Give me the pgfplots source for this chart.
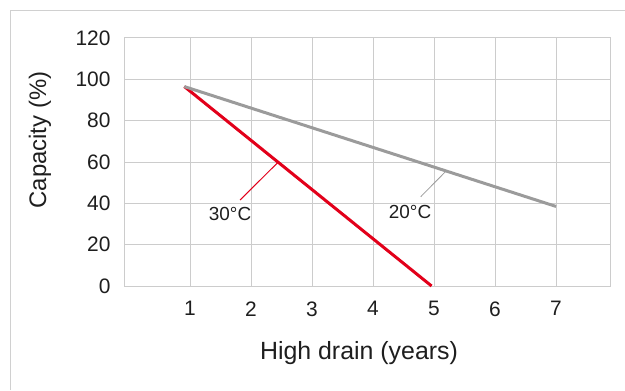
\documentclass[border=0pt]{standalone}
\usepackage{pgfplots}
\pgfplotsset{compat=1.18}
\usepackage{fontspec}
\setmainfont{Liberation Sans}
\definecolor{gridgray}{HTML}{CCCCCC}
\definecolor{framegray}{HTML}{D0D0D0}
\definecolor{linegray}{HTML}{9B9B9B}
\definecolor{myred}{HTML}{E2001A}
\definecolor{txt}{HTML}{1E1E1E}
\begin{document}
\begin{tikzpicture}[x=1bp,y=1bp]
\path[use as bounding box] (0,0) rectangle (625,390);
\draw[framegray,line width=1.2bp] (10.5,0) -- (10.5,379.5) -- (625,379.5);
\begin{axis}[
  at={(124bp,104bp)}, anchor=south west,
  width=486bp, height=248bp, scale only axis,
  xmin=-0.082, xmax=7.885, ymin=0, ymax=120,
  xtick={1,2,3,4,5,6,7}, ytick={0,20,40,60,80,100,120},
  grid=major,
  grid style={gridgray, line width=1bp},
  axis line style={gridgray, line width=1bp},
  major tick length=0pt,
  tick label style={font=\fontsize{21}{24}\selectfont, text=txt},
  /pgf/number format/assume math mode=true,
  xticklabel style={yshift=-12bp},
  yticklabel style={xshift=-10bp},
  clip=false,
]
\addplot[myred, line width=3bp] coordinates {(0.907,96.5) (4.96,0)};
\addplot[linegray, line width=3bp] coordinates {(0.907,96.5) (7.0,38.5)};
\addplot[myred, line width=1bp] coordinates {(1.82,41.6) (2.448,60)};
\addplot[linegray, line width=0.8bp] coordinates {(4.782,43.2) (5.197,55.6)};
\node[font=\fontsize{19}{22}\selectfont, text=txt] at (axis cs:1.656,34.8) {30°C};
\node[font=\fontsize{19}{22}\selectfont, text=txt] at (axis cs:4.607,35.8) {20°C};
\end{axis}
\node[font=\fontsize{24}{28}\selectfont, text=txt, rotate=90] at (40,250) {Capacity (\%)};
\node[font=\fontsize{25}{28}\selectfont, text=txt] at (359,37) {High drain (years)};
\end{tikzpicture}
\end{document}
